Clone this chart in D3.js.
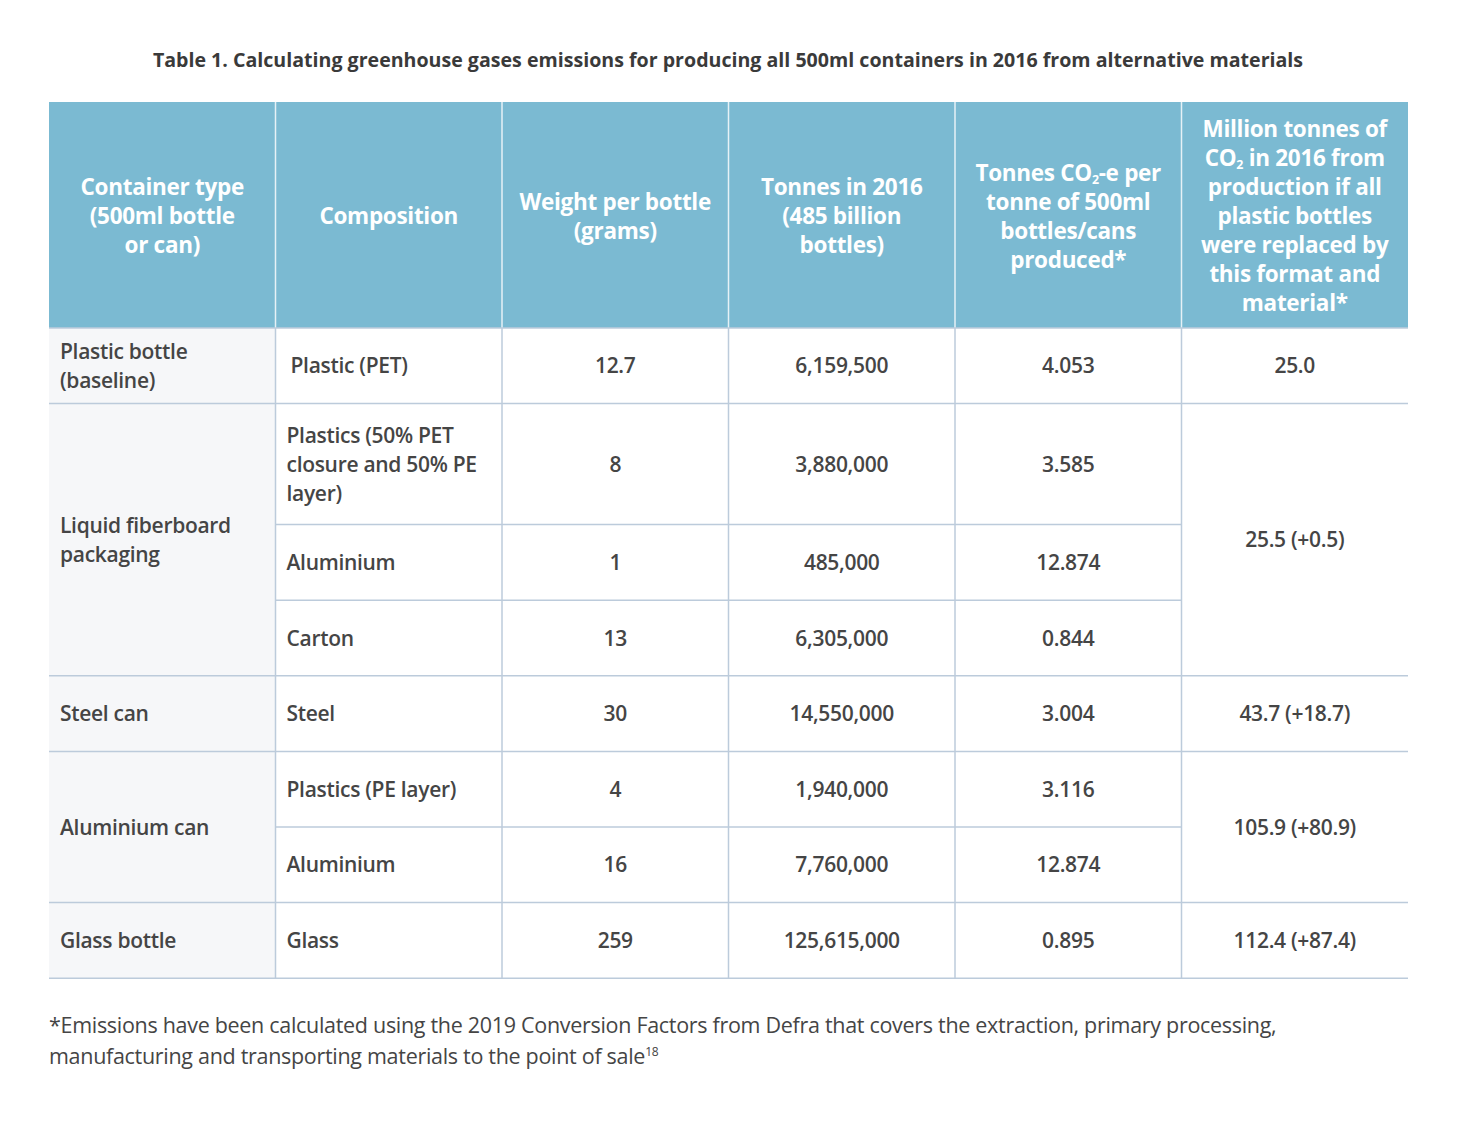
<!DOCTYPE html>
<html><head><meta charset="utf-8">
<script src="https://cdn.jsdelivr.net/npm/d3@7"></script>
<style>
body{margin:0;background:#fff;}
text{font-family:"Open Sans",Lato,sans-serif;}
</style></head>
<body><svg id="c" width="1480" height="1140"></svg>
<script>
const title = "Table 1. Calculating greenhouse gases emissions for producing all 500ml containers in 2016 from alternative materials";
const headers = [
  ["Container type","(500ml bottle","or can)"],
  ["Composition"],
  ["Weight per bottle","(grams)"],
  ["Tonnes in 2016","(485 billion","bottles)"],
  ["Tonnes CO|2|-e per","tonne of 500ml","bottles/cans","produced*"],
  ["Million tonnes of","CO|2| in 2016 from","production if all","plastic bottles","were replaced by","this format and","material*"]
];
const containerTypes = [["Plastic bottle","(baseline)"],["Liquid fiberboard","packaging"],["Steel can"],["Aluminium can"],["Glass bottle"]];
const containerSpan = [1,3,1,2,1];
const totals = ["25.0","25.5 (+0.5)","43.7 (+18.7)","105.9 (+80.9)","112.4 (+87.4)"];
const compositions = [["Plastic (PET)"],["Plastics (50% PET","closure and 50% PE","layer)"],["Aluminium"],["Carton"],["Steel"],["Plastics (PE layer)"],["Aluminium"],["Glass"]];
const weights = ["12.7","8","1","13","30","4","16","259"];
const tonnes = [6159500,3880000,485000,6305000,14550000,1940000,7760000,125615000];
const co2PerTonne = ["4.053","3.585","12.874","0.844","3.004","3.116","12.874","0.895"];
const footnote = ["*Emissions have been calculated using the 2019 Conversion Factors from Defra that covers the extraction, primary processing,","manufacturing and transporting materials to the point of sale"];
const footRef = "18";

const svg = d3.select("#c");
const left = 49, right = 1408, headTop = 102, headBot = 328;
const x = d3.scaleBand().domain(d3.range(6)).range([left, right]);
const cw = x.bandwidth();
const headerColor = "#7bbad2", lineColor = "#bccbdb", textColor = "#454545", firstColBg = "#f6f7f9";
const LH = 29;

const rowH = compositions.map(c => c.length >= 3 ? 121 : 75.6);
const rowY = [];
let acc = headBot;
rowH.forEach(h => { rowY.push(acc); acc += h; });
const bottom = acc;

svg.append("text").attr("x", 728).attr("y", 67).attr("text-anchor","middle")
  .attr("font-size", 19.6).attr("font-weight", 700).attr("fill","#3a3a3a").text(title);

svg.append("rect").attr("x", left).attr("y", headTop).attr("width", right-left).attr("height", headBot-headTop).attr("fill", headerColor);
d3.range(1,6).forEach(i => svg.append("line").attr("x1", x(i)).attr("x2", x(i)).attr("y1", headTop).attr("y2", headBot)
  .attr("stroke","#e6f1f6").attr("stroke-width",1.5));

function addLines(g, lines, cx, cy, anchor, weight, fill, fs){
  const n = lines.length;
  lines.forEach((ln, k) => {
    const t = g.append("text").attr("x", cx).attr("y", cy + (k - (n-1)/2)*LH + fs*0.36)
      .attr("text-anchor", anchor).attr("font-size", fs).attr("font-weight", weight).attr("fill", fill)
      .attr("letter-spacing", -0.3);
    const parts = ln.split("|");
    parts.forEach((p, j) => {
      if (j % 2 === 1) t.append("tspan").attr("font-size", fs*0.55).attr("dy", 3).text(p);
      else t.append("tspan").attr("dy", j>0 ? -3 : 0).text(p);
    });
  });
}
const HFS = 22.5, BFS = 21;
headers.forEach((h, i) => addLines(svg, h, x(i)+cw/2, (headTop+headBot)/2 + 1, "middle", 700, "#ffffff", HFS));

svg.append("rect").attr("x", left).attr("y", headBot).attr("width", cw).attr("height", bottom-headBot).attr("fill", firstColBg);

const groupStart = [];
let s = 0; containerSpan.forEach(n => { groupStart.push(s); s += n; });

rowY.forEach((y, r) => {
  if (r === 0) return;
  const isGroup = groupStart.includes(r);
  svg.append("line").attr("x1", isGroup ? left : x(1)).attr("x2", isGroup ? right : x(5))
    .attr("y1", y).attr("y2", y).attr("stroke", lineColor).attr("stroke-width", 1.5);
});
[headBot, bottom].forEach(y => svg.append("line").attr("x1", left).attr("x2", right).attr("y1", y).attr("y2", y).attr("stroke", lineColor).attr("stroke-width", 1.5));
d3.range(1,6).forEach(i => svg.append("line").attr("x1", x(i)).attr("x2", x(i)).attr("y1", headBot).attr("y2", bottom)
  .attr("stroke", lineColor).attr("stroke-width", 1.5));

containerTypes.forEach((ct, gi) => {
  const r0 = groupStart[gi], r1 = r0 + containerSpan[gi];
  const y0 = rowY[r0], y1 = r1 < rowY.length ? rowY[r1] : bottom;
  addLines(svg, ct, x(0)+11, (y0+y1)/2, "start", 600, textColor, BFS);
  addLines(svg, [totals[gi]], x(5)+cw/2, (y0+y1)/2, "middle", 600, textColor, BFS);
});

const fmt = d3.format(",");
compositions.forEach((c, r) => {
  const cy = rowY[r] + rowH[r]/2;
  addLines(svg, c, x(1)+ (r===0 ? 15 : 11), cy, "start", 600, textColor, BFS);
  addLines(svg, [weights[r]], x(2)+cw/2, cy, "middle", 600, textColor, BFS);
  addLines(svg, [fmt(tonnes[r])], x(3)+cw/2, cy, "middle", 600, textColor, BFS);
  addLines(svg, [co2PerTonne[r]], x(4)+cw/2, cy, "middle", 600, textColor, BFS);
});

footnote.forEach((f, k) => {
  const t = svg.append("text").attr("x", left).attr("y", 1033 + k*31).attr("font-size", 21.5).attr("font-weight", 400).attr("fill", textColor).attr("letter-spacing", -0.3).text(f);
  if (k === 1) t.append("tspan").attr("font-size", 12).attr("dy", -8).text(footRef);
});
</script></body></html>
